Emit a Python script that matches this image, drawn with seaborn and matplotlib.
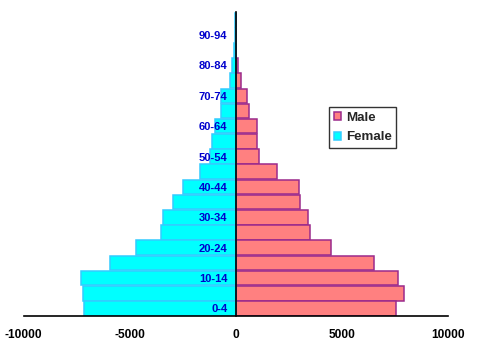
import matplotlib
matplotlib.use("Agg")
import matplotlib.pyplot as plt
import seaborn as sns
import pandas as pd
import numpy as np

ages = ['0-4', '5-9', '10-14', '15-19', '20-24', '25-29', '30-34', '35-39',
        '40-44', '45-49', '50-54', '55-59', '60-64', '65-69', '70-74',
        '75-79', '80-84', '85-89', '90-94', '95-99']
male = [7550, 7920, 7640, 6510, 4480, 3490, 3400, 3020, 2970, 1930,
        1090, 990, 990, 610, 520, 240, 100, 20, 10, 5]
female = [7170, 7220, 7310, 5940, 4720, 3540, 3440, 2970, 2500, 1700,
          1210, 1130, 990, 710, 680, 290, 190, 60, 40, 30]
xticks = [-10000, -5000, 0, 5000, 10000]

sns.set_style("white")
plt.rcParams['font.family'] = ['Liberation Sans', 'DejaVu Sans']

df = pd.DataFrame({
    'age': ages * 2,
    'value': male + [-v for v in female],
    'sex': ['Male'] * len(ages) + ['Female'] * len(ages),
})

fig = plt.figure(figsize=(4.8, 3.49), dpi=100)
ax = fig.add_axes([23.5 / 480, 1 - 316 / 349, 424.5 / 480, 303.7 / 349])

order = ages[::-1]
sns.barplot(data=df, x='value', y='age', hue='sex', order=order,
            hue_order=['Male', 'Female'], orient='h', dodge=False,
            palette={'Male': '#FF8080', 'Female': '#00FFFF'}, saturation=1,
            width=0.96, ax=ax, legend=True)

edge = {'Male': '#9B2A8C', 'Female': '#33CCFF'}
for cont, name in zip(ax.containers, ['Male', 'Female']):
    for p in cont:
        p.set_edgecolor(edge[name])
        p.set_linewidth(1.1)

ax.set_axisbelow(False)
ax.set_xlim(-10000, 10000)
ax.set_ylim(len(ages) - 0.5, -0.5)
ax.set_xticks(xticks)
ax.set_xticklabels([str(t) for t in xticks], fontsize=8.6, fontweight='bold', color='black')
ax.tick_params(axis='x', direction='out', length=4, width=1, color='black', pad=5)

# y axis at zero
ax.spines['left'].set_position(('data', 0))
ax.spines['left'].set_color('black')
ax.spines['left'].set_linewidth(1.2)
ax.spines['bottom'].set_color('black')
ax.spines['bottom'].set_linewidth(1.2)
ax.spines['top'].set_visible(False)
ax.spines['right'].set_visible(False)

label_pos = [order.index(a) for a in ages[::2]]
ax.set_yticks(label_pos)
ax.set_yticklabels(ages[::2], fontsize=8, fontweight='bold', color='#0000CC')
ax.tick_params(axis='y', which='major', length=0, pad=6)
ax.set_yticks(np.arange(-0.5, len(ages), 1.0), minor=True)
ax.tick_params(axis='y', which='minor', direction='inout', length=5, width=1, color='black')

ax.set_xlabel('')
ax.set_ylabel('')

handles, labels = ax.get_legend_handles_labels()
for h, n in zip(handles, labels):
    h.set_edgecolor(edge[n])
    h.set_linewidth(1.1)
leg = ax.legend(handles, labels, loc='upper left', bbox_to_anchor=(0.720, 0.687),
                borderaxespad=0, frameon=True, fancybox=False, shadow=False,
                prop={'family': 'Liberation Sans', 'weight': 'bold', 'size': 9.6},
                handlelength=0.55, handleheight=0.55, handletextpad=0.35,
                borderpad=0.35, labelspacing=0.55)
leg.get_frame().set_edgecolor('black')
leg.get_frame().set_linewidth(1)
leg.set_zorder(5)

fig.savefig('out.png', dpi=100)
